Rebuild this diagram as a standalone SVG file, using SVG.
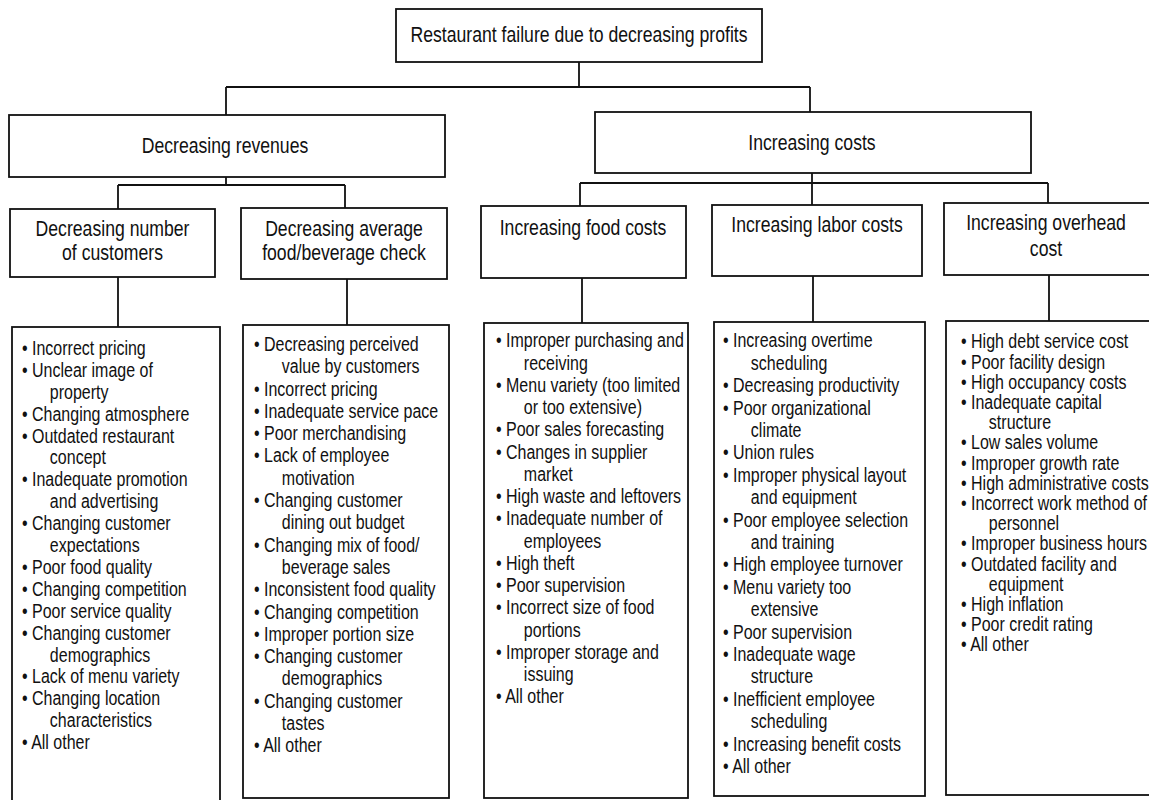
<svg xmlns="http://www.w3.org/2000/svg" width="1149" height="800" viewBox="0 0 1149 800">
<style>
.box{fill:#fff;stroke:#111;stroke-width:1.8}
.con{fill:none;stroke:#111;stroke-width:1.8}
.h{font-family:"Liberation Sans",Arial,sans-serif;font-size:21.5px;fill:#111;text-anchor:middle}
.l{font-family:"Liberation Sans",Arial,sans-serif;font-size:19.5px;fill:#111}
</style>
<rect width="1149" height="800" fill="#fff"/>
<g id="connectors">
<path class="con" d="M579 62V87M226 87H810M226 87V115M810 87V112M226 177V185M118 185H345M118 185V209M345 185V208M812 173V183M580 183H1048M580 183V206M812 183V205M1048 183V203M118 277V327M347 279V325M582 278V323M813 276V322M1049 275V321"/>
</g>
<g id="root">
<rect class="box" x="396" y="9" width="366" height="53"/>
<g transform="matrix(0.82,0,0,1,579,0)"><text class="h" x="0" y="42">Restaurant failure due to decreasing profits</text></g>
</g>
<g id="dec-revenues">
<rect class="box" x="9" y="115" width="436" height="62"/>
<g transform="matrix(0.82,0,0,1,225,0)"><text class="h" x="0" y="153">Decreasing revenues</text></g>
</g>
<g id="inc-costs">
<rect class="box" x="595" y="112" width="436" height="61"/>
<g transform="matrix(0.82,0,0,1,812,0)"><text class="h" x="0" y="150">Increasing costs</text></g>
</g>
<g id="dec-customers">
<rect class="box" x="10" y="209" width="205" height="68"/>
<g transform="matrix(0.82,0,0,1,112.5,0)"><text class="h" x="0" y="236">Decreasing number</text><text class="h" x="0" y="260">of customers</text></g>
</g>
<g id="dec-check">
<rect class="box" x="241" y="208" width="206" height="71"/>
<g transform="matrix(0.82,0,0,1,344,0)"><text class="h" x="0" y="236">Decreasing average</text><text class="h" x="0" y="260">food/beverage check</text></g>
</g>
<g id="inc-food">
<rect class="box" x="481" y="206" width="205" height="72"/>
<g transform="matrix(0.82,0,0,1,583,0)"><text class="h" x="0" y="235">Increasing food costs</text></g>
</g>
<g id="inc-labor">
<rect class="box" x="712" y="205" width="210" height="71"/>
<g transform="matrix(0.82,0,0,1,817,0)"><text class="h" x="0" y="232">Increasing labor costs</text></g>
</g>
<g id="inc-overhead">
<rect class="box" x="944" y="203" width="220" height="72"/>
<g transform="matrix(0.82,0,0,1,1046,0)"><text class="h" x="0" y="230">Increasing overhead</text><text class="h" x="0" y="256">cost</text></g>
</g>
<g id="list-customers">
<rect class="box" x="12" y="327" width="208" height="490"/>
<g transform="matrix(0.82,0,0,1,22,0)" class="l">
<text x="0" y="355">• Incorrect pricing</text>
<text x="0" y="376.9">• Unclear image of</text>
<text x="34" y="398.8">property</text>
<text x="0" y="420.7">• Changing atmosphere</text>
<text x="0" y="442.6">• Outdated restaurant</text>
<text x="34" y="464.5">concept</text>
<text x="0" y="486.4">• Inadequate promotion</text>
<text x="34" y="508.3">and advertising</text>
<text x="0" y="530.2">• Changing customer</text>
<text x="34" y="552.1">expectations</text>
<text x="0" y="574">• Poor food quality</text>
<text x="0" y="595.9">• Changing competition</text>
<text x="0" y="617.8">• Poor service quality</text>
<text x="0" y="639.7">• Changing customer</text>
<text x="34" y="661.6">demographics</text>
<text x="0" y="683.5">• Lack of menu variety</text>
<text x="0" y="705.4">• Changing location</text>
<text x="34" y="727.3">characteristics</text>
<text x="0" y="749.2">• All other</text>
</g>
</g>
<g id="list-check">
<rect class="box" x="243" y="325" width="206" height="473"/>
<g transform="matrix(0.82,0,0,1,254,0)" class="l">
<text x="0" y="351">• Decreasing perceived</text>
<text x="34" y="373.3">value by customers</text>
<text x="0" y="395.6">• Incorrect pricing</text>
<text x="0" y="417.9">• Inadequate service pace</text>
<text x="0" y="440.2">• Poor merchandising</text>
<text x="0" y="462.5">• Lack of employee</text>
<text x="34" y="484.8">motivation</text>
<text x="0" y="507.1">• Changing customer</text>
<text x="34" y="529.4">dining out budget</text>
<text x="0" y="551.7">• Changing mix of food/</text>
<text x="34" y="574">beverage sales</text>
<text x="0" y="596.3">• Inconsistent food quality</text>
<text x="0" y="618.6">• Changing competition</text>
<text x="0" y="640.9">• Improper portion size</text>
<text x="0" y="663.2">• Changing customer</text>
<text x="34" y="685.5">demographics</text>
<text x="0" y="707.8">• Changing customer</text>
<text x="34" y="730.1">tastes</text>
<text x="0" y="752.4">• All other</text>
</g>
</g>
<g id="list-food">
<rect class="box" x="484" y="323" width="204" height="475"/>
<g transform="matrix(0.82,0,0,1,496,0)" class="l">
<text x="0" y="347.5">• Improper purchasing and</text>
<text x="34" y="369.75">receiving</text>
<text x="0" y="392">• Menu variety (too limited</text>
<text x="34" y="414.25">or too extensive)</text>
<text x="0" y="436.5">• Poor sales forecasting</text>
<text x="0" y="458.75">• Changes in supplier</text>
<text x="34" y="481">market</text>
<text x="0" y="503.25">• High waste and leftovers</text>
<text x="0" y="525.5">• Inadequate number of</text>
<text x="34" y="547.75">employees</text>
<text x="0" y="570">• High theft</text>
<text x="0" y="592.25">• Poor supervision</text>
<text x="0" y="614.5">• Incorrect size of food</text>
<text x="34" y="636.75">portions</text>
<text x="0" y="659">• Improper storage and</text>
<text x="34" y="681.25">issuing</text>
<text x="0" y="703.5">• All other</text>
</g>
</g>
<g id="list-labor">
<rect class="box" x="714" y="322" width="211" height="474"/>
<g transform="matrix(0.82,0,0,1,723,0)" class="l">
<text x="0" y="347.5">• Increasing overtime</text>
<text x="34" y="369.9">scheduling</text>
<text x="0" y="392.3">• Decreasing productivity</text>
<text x="0" y="414.7">• Poor organizational</text>
<text x="34" y="437.1">climate</text>
<text x="0" y="459.5">• Union rules</text>
<text x="0" y="481.9">• Improper physical layout</text>
<text x="34" y="504.3">and equipment</text>
<text x="0" y="526.7">• Poor employee selection</text>
<text x="34" y="549.1">and training</text>
<text x="0" y="571.5">• High employee turnover</text>
<text x="0" y="593.9">• Menu variety too</text>
<text x="34" y="616.3">extensive</text>
<text x="0" y="638.7">• Poor supervision</text>
<text x="0" y="661.1">• Inadequate wage</text>
<text x="34" y="683.5">structure</text>
<text x="0" y="705.9">• Inefficient employee</text>
<text x="34" y="728.3">scheduling</text>
<text x="0" y="750.7">• Increasing benefit costs</text>
<text x="0" y="773.1">• All other</text>
</g>
</g>
<g id="list-overhead">
<rect class="box" x="946" y="321" width="220" height="474"/>
<g transform="matrix(0.82,0,0,1,961,0)" class="l">
<text x="0" y="348.5">• High debt service cost</text>
<text x="0" y="368.7">• Poor facility design</text>
<text x="0" y="388.9">• High occupancy costs</text>
<text x="0" y="409.1">• Inadequate capital</text>
<text x="34" y="429.3">structure</text>
<text x="0" y="449.5">• Low sales volume</text>
<text x="0" y="469.7">• Improper growth rate</text>
<text x="0" y="489.9">• High administrative costs</text>
<text x="0" y="510.1">• Incorrect work method of</text>
<text x="34" y="530.3">personnel</text>
<text x="0" y="550.5">• Improper business hours</text>
<text x="0" y="570.7">• Outdated facility and</text>
<text x="34" y="590.9">equipment</text>
<text x="0" y="611.1">• High inflation</text>
<text x="0" y="631.3">• Poor credit rating</text>
<text x="0" y="651.5">• All other</text>
</g>
</g>
</svg>
